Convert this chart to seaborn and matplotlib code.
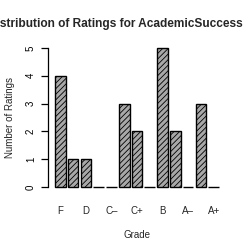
import matplotlib
matplotlib.use("Agg")
import matplotlib.pyplot as plt
import seaborn as sns
import pandas as pd

grades = ["F", "D-", "D", "D+", "C-", "C", "C+", "B-", "B", "B+", "A-", "A", "A+"]
counts = [4, 1, 1, 0, 0, 3, 2, 0, 5, 2, 0, 3, 0]
tick_labels = ["F", "", "D", "", "C\u2013", "", "C+", "", "B", "", "A\u2013", "", "A+"]
y_ticks = [0, 1, 2, 3, 4, 5]

sns.set_style("white")
plt.rcParams["font.family"] = ["Liberation Sans", "DejaVu Sans"]
plt.rcParams["hatch.linewidth"] = 0.6
plt.rcParams["hatch.color"] = "#5a5a5a"

df = pd.DataFrame({"Grade": grades, "Count": counts})

fig = plt.figure(figsize=(2.5, 2.5), dpi=100)
ax = fig.add_axes([0.1936, 0.2296, 0.9024 - 0.1936, 0.8304 - 0.2296])
sns.barplot(data=df, x="Grade", y="Count", order=grades, color="#a8a8a8",
            width=0.833, edgecolor="black", linewidth=1.0, saturation=1, ax=ax)
for p in ax.patches:
    p.set_hatch("//////")
    p.set_edgecolor("black")

ax.set_xlim(-0.93, 12.93)
ax.set_ylim(-0.2, 5.2)
for s in ["top", "right", "bottom"]:
    ax.spines[s].set_visible(False)
ax.spines["left"].set_bounds(0, 5)
ax.spines["left"].set_linewidth(0.9)
ax.spines["left"].set_color("black")
ax.set_yticks(y_ticks)
ax.set_yticklabels([str(v) for v in y_ticks], rotation=90, va="center", fontsize=7)
ax.tick_params(axis="y", left=True, length=5, width=0.9, pad=4, colors="black")
ax.set_xticks(range(len(grades)))
ax.set_xticklabels(tick_labels, fontsize=7)
ax.tick_params(axis="x", bottom=False, length=0, pad=10)
ax.set_xlabel("Grade", fontsize=7, labelpad=10)
ax.set_ylabel("Number of Ratings", fontsize=7, labelpad=8)

fig.text(243 / 250, 1 - 24 / 250, "Distribution of Ratings for AcademicSuccess",
         ha="right", va="center", fontsize=8.6, fontweight="bold")

fig.savefig("out.png", dpi=100)
